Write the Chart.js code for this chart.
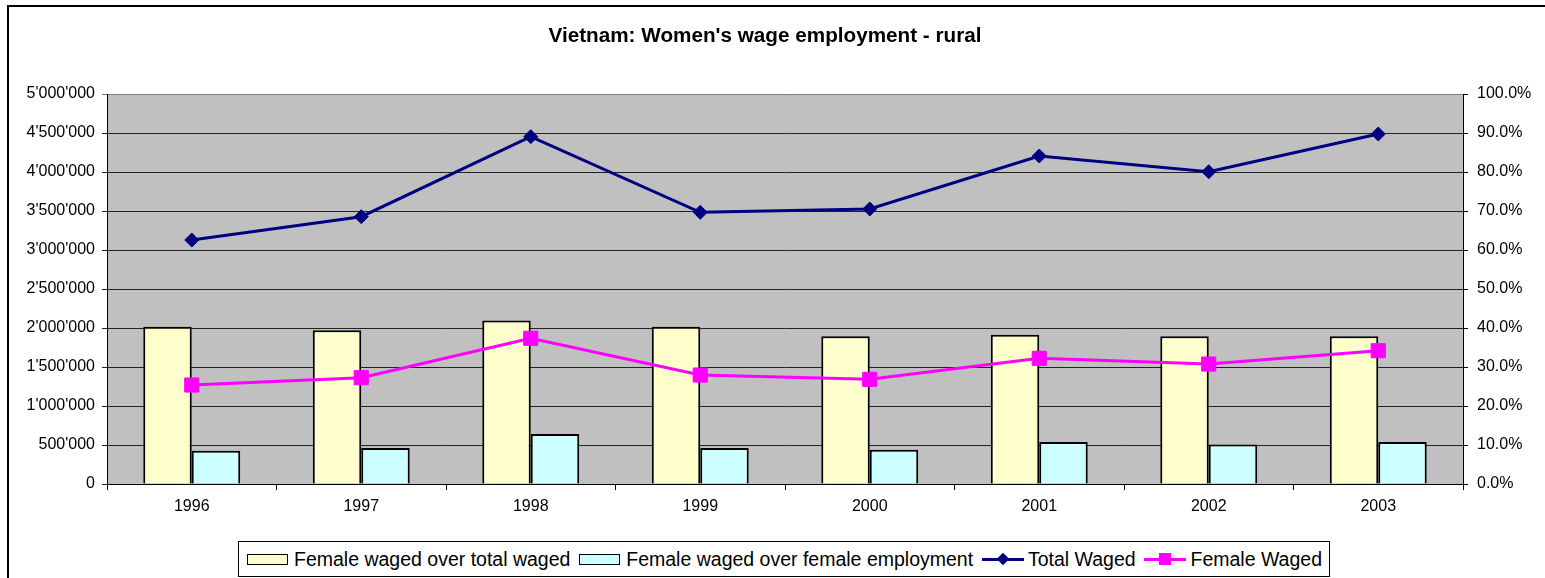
<!DOCTYPE html>
<html>
<head>
<meta charset="utf-8">
<title>Vietnam: Women's wage employment - rural</title>
<script src="https://cdn.jsdelivr.net/npm/chart.js@4/dist/chart.umd.min.js"></script>
<style>
    body { margin: 0; background: #fff; font-family: 'Liberation Sans', Arial, sans-serif; color: #000; }
    #wrap { position: relative; width: 1545px; height: 578px; overflow: hidden; }
    #frame { position: absolute; left: 7px; top: 5px; width: 1700px; height: 800px; border: 2px solid #000; box-sizing: border-box; }
    #chart { position: absolute; left: 0; top: 0; }
    #title { position: absolute; left: 0; width: 1530px; top: 25px; line-height: 20px; text-align: center; font-weight: bold; font-size: 20.7px; }
    #legend { position: absolute; left: 238px; top: 541px; width: 1092px; height: 36px; border: 1px solid #000; box-sizing: border-box;
              padding: 0 7px 0 8px; display: flex; justify-content: space-between; align-items: center; font-size: 19.5px;
              background: #fff; white-space: nowrap; }
    .lg-item { display: flex; align-items: center; }
    .lg-box { display: inline-block; width: 41px; height: 11px; border: 1.5px solid #000; box-sizing: border-box; margin-right: 6px; }
    .lg-line { position: relative; display: inline-block; width: 42px; height: 16px; margin-right: 4px; }
    .lg-line .stroke { position: absolute; left: 0; right: 0; top: 7px; height: 3px; }
    .lg-line .mark { position: absolute; left: 50%; top: 50%; }
</style>
</head>
<body>
<div id="wrap">
    <div id="frame"></div>
    <canvas id="chart" width="1545" height="578"></canvas>
    <div id="title">Vietnam: Women's wage employment - rural</div>
    <div id="legend"></div>
</div>
<script>
// data
const years = ['1996', '1997', '1998', '1999', '2000', '2001', '2002', '2003'];
const femaleOverTotal = [40.3, 39.4, 41.9, 40.3, 37.9, 38.3, 37.9, 37.9];      // %
const femaleOverFemaleEmp = [8.5, 9.2, 12.8, 9.2, 8.8, 10.8, 10.1, 10.8];      // %
const totalWaged = [3128000, 3427000, 4453000, 3483000, 3526000, 4205000, 4004000, 4487000];
const femaleWaged = [1269000, 1363000, 1868000, 1397000, 1342000, 1611000, 1538000, 1709000];

const leftTicks = [0, 500000, 1000000, 1500000, 2000000, 2500000, 3000000, 3500000, 4000000, 4500000, 5000000];
const rightTicks = [0, 10, 20, 30, 40, 50, 60, 70, 80, 90, 100];

function fmtThousands(v) {
    return String(v).replace(/\B(?=(\d{3})+(?!\d))/g, "'");
}

Chart.defaults.font.family = "'Liberation Sans', Arial, sans-serif";
Chart.defaults.font.size = 16;
Chart.defaults.color = '#000';

const plotBg = {
    id: 'plotBg',
    beforeDraw: function(chart) {
        const a = chart.chartArea, ctx = chart.ctx;
        ctx.save();
        ctx.fillStyle = '#C0C0C0';
        ctx.fillRect(a.left, a.top, a.right - a.left, a.bottom - a.top);
        ctx.restore();
    }
};

const htmlLegend = {
    id: 'htmlLegend',
    afterUpdate: function(chart) {
        const box = document.getElementById('legend');
        box.innerHTML = '';
        chart.data.datasets.forEach(function(ds) {
            const item = document.createElement('div');
            item.className = 'lg-item';
            let sym;
            if (ds.type === 'bar') {
                sym = document.createElement('span');
                sym.className = 'lg-box';
                sym.style.background = ds.backgroundColor;
            } else {
                sym = document.createElement('span');
                sym.className = 'lg-line';
                const stroke = document.createElement('span');
                stroke.className = 'stroke';
                stroke.style.background = ds.borderColor;
                const mark = document.createElement('span');
                mark.className = 'mark';
                mark.style.background = ds.borderColor;
                if (ds.pointStyle === 'rectRot') {
                    mark.style.width = '9px'; mark.style.height = '9px';
                    mark.style.transform = 'translate(-50%, -50%) rotate(45deg)';
                } else {
                    mark.style.width = '12px'; mark.style.height = '12px';
                    mark.style.transform = 'translate(-50%, -50%)';
                }
                sym.appendChild(stroke);
                sym.appendChild(mark);
            }
            const txt = document.createElement('span');
            txt.textContent = ds.label;
            item.appendChild(sym);
            item.appendChild(txt);
            box.appendChild(item);
        });
    }
};

new Chart(document.getElementById('chart'), {
    data: {
        labels: years,
        datasets: [{
            type: 'bar',
            label: 'Female waged over total waged',
            data: femaleOverTotal,
            backgroundColor: '#FFFFCC',
            borderColor: '#000',
            borderWidth: 2,
            yAxisID: 'pct',
            order: 2
        }, {
            type: 'bar',
            label: 'Female waged over female employment',
            data: femaleOverFemaleEmp,
            backgroundColor: '#CCFFFF',
            borderColor: '#000',
            borderWidth: 2,
            yAxisID: 'pct',
            order: 2
        }, {
            type: 'line',
            label: 'Total Waged',
            data: totalWaged,
            borderColor: '#000080',
            backgroundColor: '#000080',
            borderWidth: 3,
            pointStyle: 'rectRot',
            pointRadius: 7,
            pointBorderWidth: 1,
            yAxisID: 'val',
            order: 1
        }, {
            type: 'line',
            label: 'Female Waged',
            data: femaleWaged,
            borderColor: '#FF00FF',
            backgroundColor: '#FF00FF',
            borderWidth: 3,
            pointStyle: 'rect',
            pointRadius: 10,
            pointBorderWidth: 1,
            yAxisID: 'val',
            order: 1
        }]
    },
    options: {
        responsive: false,
        animation: false,
        layout: { padding: { top: 94, left: 0, right: 0, bottom: 0 } },
        plugins: {
            legend: { display: false },
            title: { display: false },
            tooltip: { enabled: false }
        },
        datasets: {
            bar: { categoryPercentage: 0.572, barPercentage: 1 }
        },
        scales: {
            x: {
                offset: true,
                grid: { offset: true, drawOnChartArea: false, drawTicks: true, tickLength: 6, color: '#000' },
                border: { color: '#000', width: 1 },
                ticks: { padding: 7, maxRotation: 0 },
                afterFit: function(s) { s.height = 94; }
            },
            val: {
                type: 'linear',
                position: 'left',
                min: 0,
                max: 5000000,
                afterBuildTicks: function(s) { s.ticks = leftTicks.map(v => ({ value: v })); },
                grid: {
                    color: c => (c.tick && c.tick.value === 5000000) ? '#808080' : '#222',
                    tickLength: 5
                },
                border: { color: '#000', width: 1 },
                ticks: { padding: 7, callback: v => fmtThousands(v) },
                afterFit: function(s) { s.width = 107; }
            },
            pct: {
                type: 'linear',
                position: 'right',
                min: 0,
                max: 100,
                afterBuildTicks: function(s) { s.ticks = rightTicks.map(v => ({ value: v })); },
                grid: { drawOnChartArea: false, tickLength: 5, color: '#000' },
                border: { color: '#000', width: 1 },
                ticks: { padding: 9, callback: v => v.toFixed(1) + '%' },
                afterFit: function(s) { s.width = 82; }
            }
        }
    },
    plugins: [plotBg, htmlLegend]
});
</script>
</body>
</html>
